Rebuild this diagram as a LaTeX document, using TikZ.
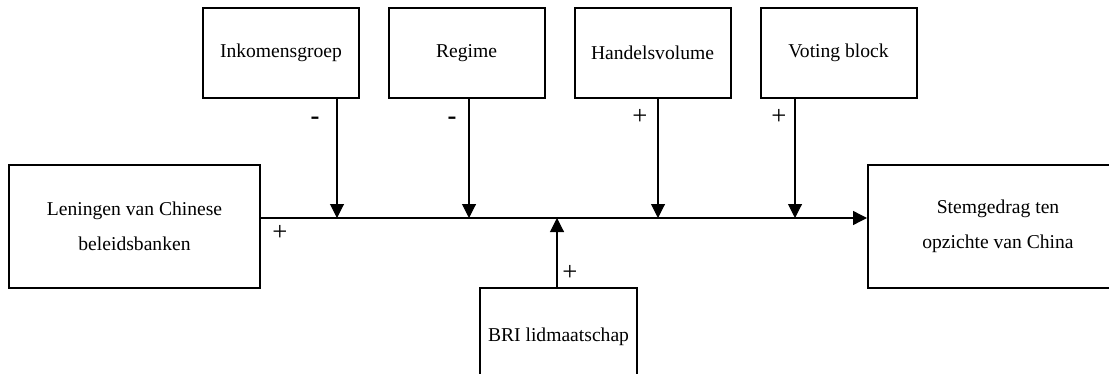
\documentclass[tikz,border=0pt]{standalone}
\usepackage{fontspec}
\setmainfont{Liberation Serif}
\usetikzlibrary{arrows.meta}
\tikzset{
  box/.style={draw, line width=1.5pt, minimum width=117pt, minimum height=67.5pt,
    inner sep=0pt, align=center, font=\fontsize{14.7}{26.25}\selectfont},
  pijl/.style={-{Triangle[width=10.5pt,length=10.5pt]}, line width=0.8pt, black},
  teken/.style={font=\fontsize{20}{20}\selectfont, inner sep=0pt}
}
\begin{document}
\begin{tikzpicture}[x=0.75pt,y=-0.75pt]
    \clip (0,0) rectangle (1109,374);
    \useasboundingbox (0,0) rectangle (1109,374);
    % moderators above
    \node[box] (inkomen) at (281,53) {Inkomensgroep};
    \node[box] (regime) at (466.5,53) {Regime};
    \node[box] (handel) at (652.5,53) {Handelsvolume};
    \node[box] (voting) at (838.5,53) {Voting block};
    % cause, effect and BRI below
    \node[box, minimum width=188.25pt, minimum height=92.25pt] (lening) at (134.5,226.5) {Leningen van Chinese\\beleidsbanken};
    \node[box, minimum width=195pt, minimum height=92.25pt] (stem) at (998,226.5) {Stemgedrag ten\\opzichte van China};
    \node[box, minimum width=117.75pt, minimum height=73.5pt] (bri) at (558.5,337) {BRI lidmaatschap};

    % points on the main line
    \coordinate (lijn) at (0,218);
    \coordinate (m1) at (337,218);
    \coordinate (m2) at (469,218);
    \coordinate (m3) at (557,218);
    \coordinate (m4) at (658,218);
    \coordinate (m5) at (795,218);

    % Draw the arrows
    \draw[pijl, line width=1pt] (lening.east |- lijn) -- (stem.west |- lijn);
    \draw[pijl] (inkomen.south -| m1) -- (m1);
    \draw[pijl] (regime.south -| m2) -- (m2);
    \draw[pijl] (handel.south -| m4) -- (m4);
    \draw[pijl] (voting.south -| m5) -- (m5);
    \draw[pijl] (bri.north -| m3) -- (m3);

    % signs
    \node[teken] (s1) at (315,121) {\textbf{-}};
    \node[teken] (s2) at (452,121) {\textbf{-}};
    \node[teken] (s3) at (640,117) {+};
    \node[teken] (s4) at (779,117) {+};
    \node[teken] (s5) at (280,233) {+};
    \node[teken] (s6) at (570,273) {+};
\end{tikzpicture}
\end{document}
